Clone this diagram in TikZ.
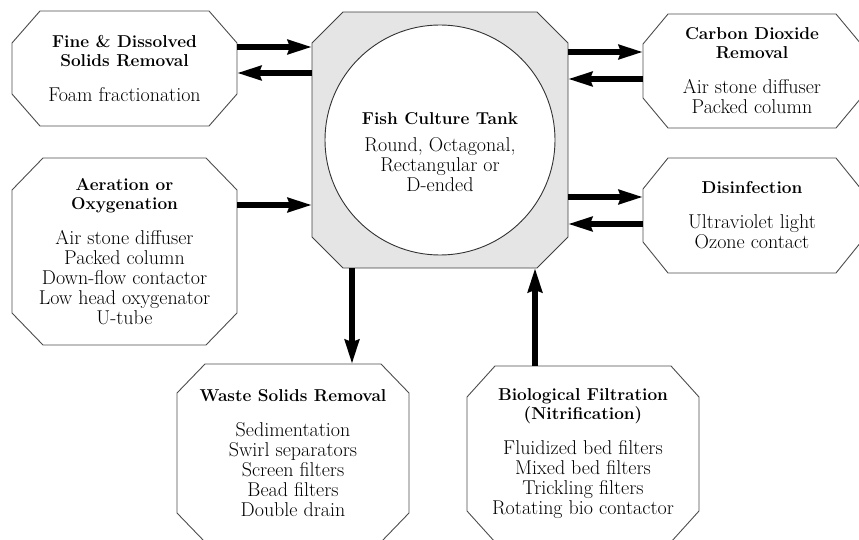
\documentclass[tikz,border=0pt]{standalone}
\usepackage{tikz}
\usetikzlibrary{arrows.meta, positioning}

\newcommand{\bodyfont}{\fontsize{20}{20}\selectfont\lineskiplimit=-20pt\relax}
\newcommand{\boxtitle}[1]{{\fontsize{17.2}{19}\selectfont\bfseries #1}}
% octagonal outline round a named box: node, x cut, y cut
\newcommand{\octframe}[4][]{%
    \draw[frame, #1] ([xshift=#3]#2.north west) -- ([xshift=-#3]#2.north east)
        -- ([yshift=-#4]#2.north east) -- ([yshift=#4]#2.south east)
        -- ([xshift=-#3]#2.south east) -- ([xshift=#3]#2.south west)
        -- ([yshift=#4]#2.south west) -- ([yshift=-#4]#2.north west) -- cycle;}

\begin{document}
\begin{tikzpicture}[
            x=1pt, y=1pt,
            unit/.style={rectangle, inner sep=0pt, outer sep=0pt,
                        minimum width=225pt, minimum height=115pt, align=center,
                        font=\bodyfont},
            frame/.style={draw=black!70, line width=0.9pt},
            flow/.style={-{Stealth[length=24pt, width=14pt, inset=2pt]}, line width=5.5pt}
        ]

        \useasboundingbox (0,0) rectangle (859,-540);

        % ===== CENTRE: the tank =====
        \node[unit, minimum width=256pt, minimum height=256pt] (tank) at (440,-140) {};
        \octframe[fill=black!10, draw=black!75]{tank}{31pt}{31pt}
        \node[circle, draw=black!80, line width=0.9pt, fill=white, minimum size=230pt,
              inner sep=0pt] (bowl) at (tank) {};
        \node[align=center, font=\bodyfont, yshift=-12pt] (tanktext) at (tank)
            {\boxtitle{Fish Culture Tank}\\[7pt] Round, Octagonal,\\ Rectangular or\\ D-ended};

        % ===== LEFT COLUMN =====
        \node[unit] (fine) at (124.5,-68.5)
            {\boxtitle{Fine \& Dissolved}\\[-1pt] \boxtitle{Solids Removal}\\[15pt] Foam fractionation};
        \octframe{fine}{28pt}{32pt}
        \node[unit, below=32pt of fine, minimum height=187pt] (aeration)
            {\boxtitle{Aeration or}\\[-1pt] \boxtitle{Oxygenation}\\[15pt] Air stone diffuser\\
             Packed column\\ Down-flow contactor\\ Low head oxygenator\\ U-tube};
        \octframe{aeration}{31pt}{32pt}

        % ===== RIGHT COLUMN =====
        \node[unit, minimum width=218pt, minimum height=114pt] (carbon) at (752,-71)
            {\boxtitle{Carbon Dioxide}\\[-1pt] \boxtitle{Removal}\\[15pt] Air stone diffuser\\ Packed column};
        \octframe{carbon}{25pt}{30pt}
        \node[unit, below=30pt of carbon, minimum width=218pt] (disinf)
            {\boxtitle{Disinfection}\\[15pt] Ultraviolet light\\ Ozone contact};
        \octframe{disinf}{25pt}{31pt}

        % ===== BOTTOM ROW =====
        \node[unit, minimum width=232pt, minimum height=178pt] (waste) at (293,-453)
            {\boxtitle{Waste Solids Removal}\\[15pt] Sedimentation\\ Swirl separators\\
             Screen filters\\ Bead filters\\ Double drain};
        \octframe{waste}{28pt}{29pt}
        \node[unit, minimum width=232pt, minimum height=176pt] (bio) at (583,-454)
            {\boxtitle{Biological Filtration}\\[-1pt] \boxtitle{(Nitrification)}\\[15pt]
             Fluidized bed filters\\ Mixed bed filters\\ Trickling filters\\ Rotating bio contactor};
        \octframe{bio}{28pt}{31pt}

        % ===== ARROWS =====
        % Fine & dissolved solids: out of the tank and back
        \path ([yshift=21.5pt]fine.east) coordinate (fine_in);
        \path ([yshift=-4.5pt]fine.east) coordinate (fine_out);
        \draw[flow] (fine_in) -- (fine_in -| tank.west);
        \draw[flow] (fine_out -| tank.west) -- (fine_out);

        % Aeration feeds the tank
        \path ([yshift=46.5pt]aeration.east) coordinate (air_in);
        \draw[flow] (air_in) -- (air_in -| tank.west);

        % Carbon dioxide removal loop
        \path ([yshift=19pt]carbon.west) coordinate (co2_in);
        \path ([yshift=-8pt]carbon.west) coordinate (co2_out);
        \draw[flow] (co2_in -| tank.east) -- (co2_in);
        \draw[flow] (co2_out) -- (co2_out -| tank.east);

        % Disinfection loop
        \path ([yshift=18.5pt]disinf.west) coordinate (uv_in);
        \path ([yshift=-8.5pt]disinf.west) coordinate (uv_out);
        \draw[flow] (uv_in -| tank.east) -- (uv_in);
        \draw[flow] (uv_out) -- (uv_out -| tank.east);

        % Solids leave the tank, filtered water comes back
        \path ([xshift=59pt]waste.north) coordinate (waste_in);
        \path ([xshift=-48pt]bio.north) coordinate (bio_out);
        \draw[flow] (waste_in |- tank.south) -- (waste_in);
        \draw[flow] (bio_out) -- (bio_out |- tank.south);

\end{tikzpicture}
\end{document}
